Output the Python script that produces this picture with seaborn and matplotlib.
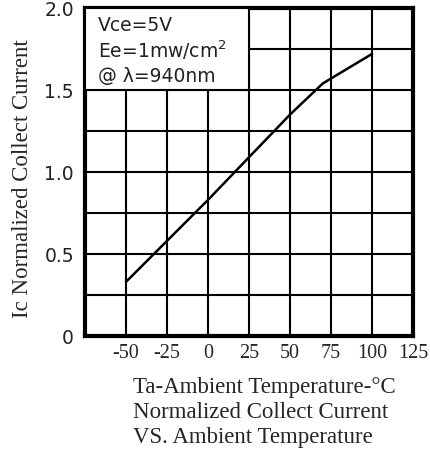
import numpy as np
import pandas as pd
import matplotlib
matplotlib.use("Agg")
import matplotlib.pyplot as plt
import seaborn as sns
from matplotlib.patches import Rectangle

# curve
temp = [-50, 0, 25, 50, 70, 100]
ic_norm = [0.33, 0.83, 1.09, 1.35, 1.54, 1.72]

x_ticks = [-50, -25, 0, 25, 50, 75, 100, 125]
y_ticks = [0, 0.5, 1.0, 1.5, 2.0]
y_labels = ["0", "0.5", "1.0", "1.5", "2.0"]

sns.set_style("white")

fig = plt.figure(figsize=(4.31, 4.57), dpi=100)
ax = fig.add_axes([85/431, 1-336/457, 328/431, 328/457])

df = pd.DataFrame({"t": temp, "ic": ic_norm})
sns.lineplot(data=df, x="t", y="ic", color="black", linewidth=1.8, ax=ax, zorder=5)

ax.set_xlim(-75, 125)
ax.set_ylim(0, 2.0)
ax.set_xticks(x_ticks)
ax.set_xticks(np.arange(-75, 126, 25), minor=True)
ax.set_yticks(y_ticks)
ax.set_yticks(np.arange(0, 2.01, 0.25), minor=True)
ax.set_xticklabels([str(v) for v in x_ticks], family="Liberation Serif", fontsize=14.5)
ax.set_yticklabels(y_labels, family="DejaVu Sans", fontsize=13.5, color="#222222")
ax.tick_params(which="both", length=0)
ax.tick_params(axis="x", pad=6)
ax.tick_params(axis="y", pad=8)
ax.grid(True, which="both", color="black", linewidth=1.5)
ax.set_axisbelow(True)
for s in ax.spines.values():
    s.set_linewidth(3)
    s.set_color("black")

# legend box covering the grid
ax.add_patch(Rectangle((-75, 1.5), 100, 0.5, facecolor="white", edgecolor="black",
                       linewidth=1.5, zorder=3))
txt = dict(family="DejaVu Sans", fontsize=13.5, color="#222222", zorder=6, va="center")
ax.text(-67, 1.895, "Vce=5V", **txt)
ax.text(-67, 1.74, "Ee=1mw/cm$^2$", **txt)
ax.text(-67, 1.585, "@ λ=940nm", **txt)

ax.set_xlabel("")
ax.set_ylabel("")
fig.text(23/431, 1-179/457, "Ic Normalized Collect Current", family="Liberation Serif",
         fontsize=16.5, rotation=90, ha="center", va="center")

lab = dict(family="Liberation Serif", fontsize=16.5, ha="left", va="center")
fig.text(133/431, 1-388/457, "Ta-Ambient Temperature-°C", **lab)
fig.text(133/431, 1-413/457, "Normalized Collect Current", **lab)
fig.text(133/431, 1-438/457, "VS. Ambient Temperature", **lab)

fig.savefig("out.png", dpi=100)
